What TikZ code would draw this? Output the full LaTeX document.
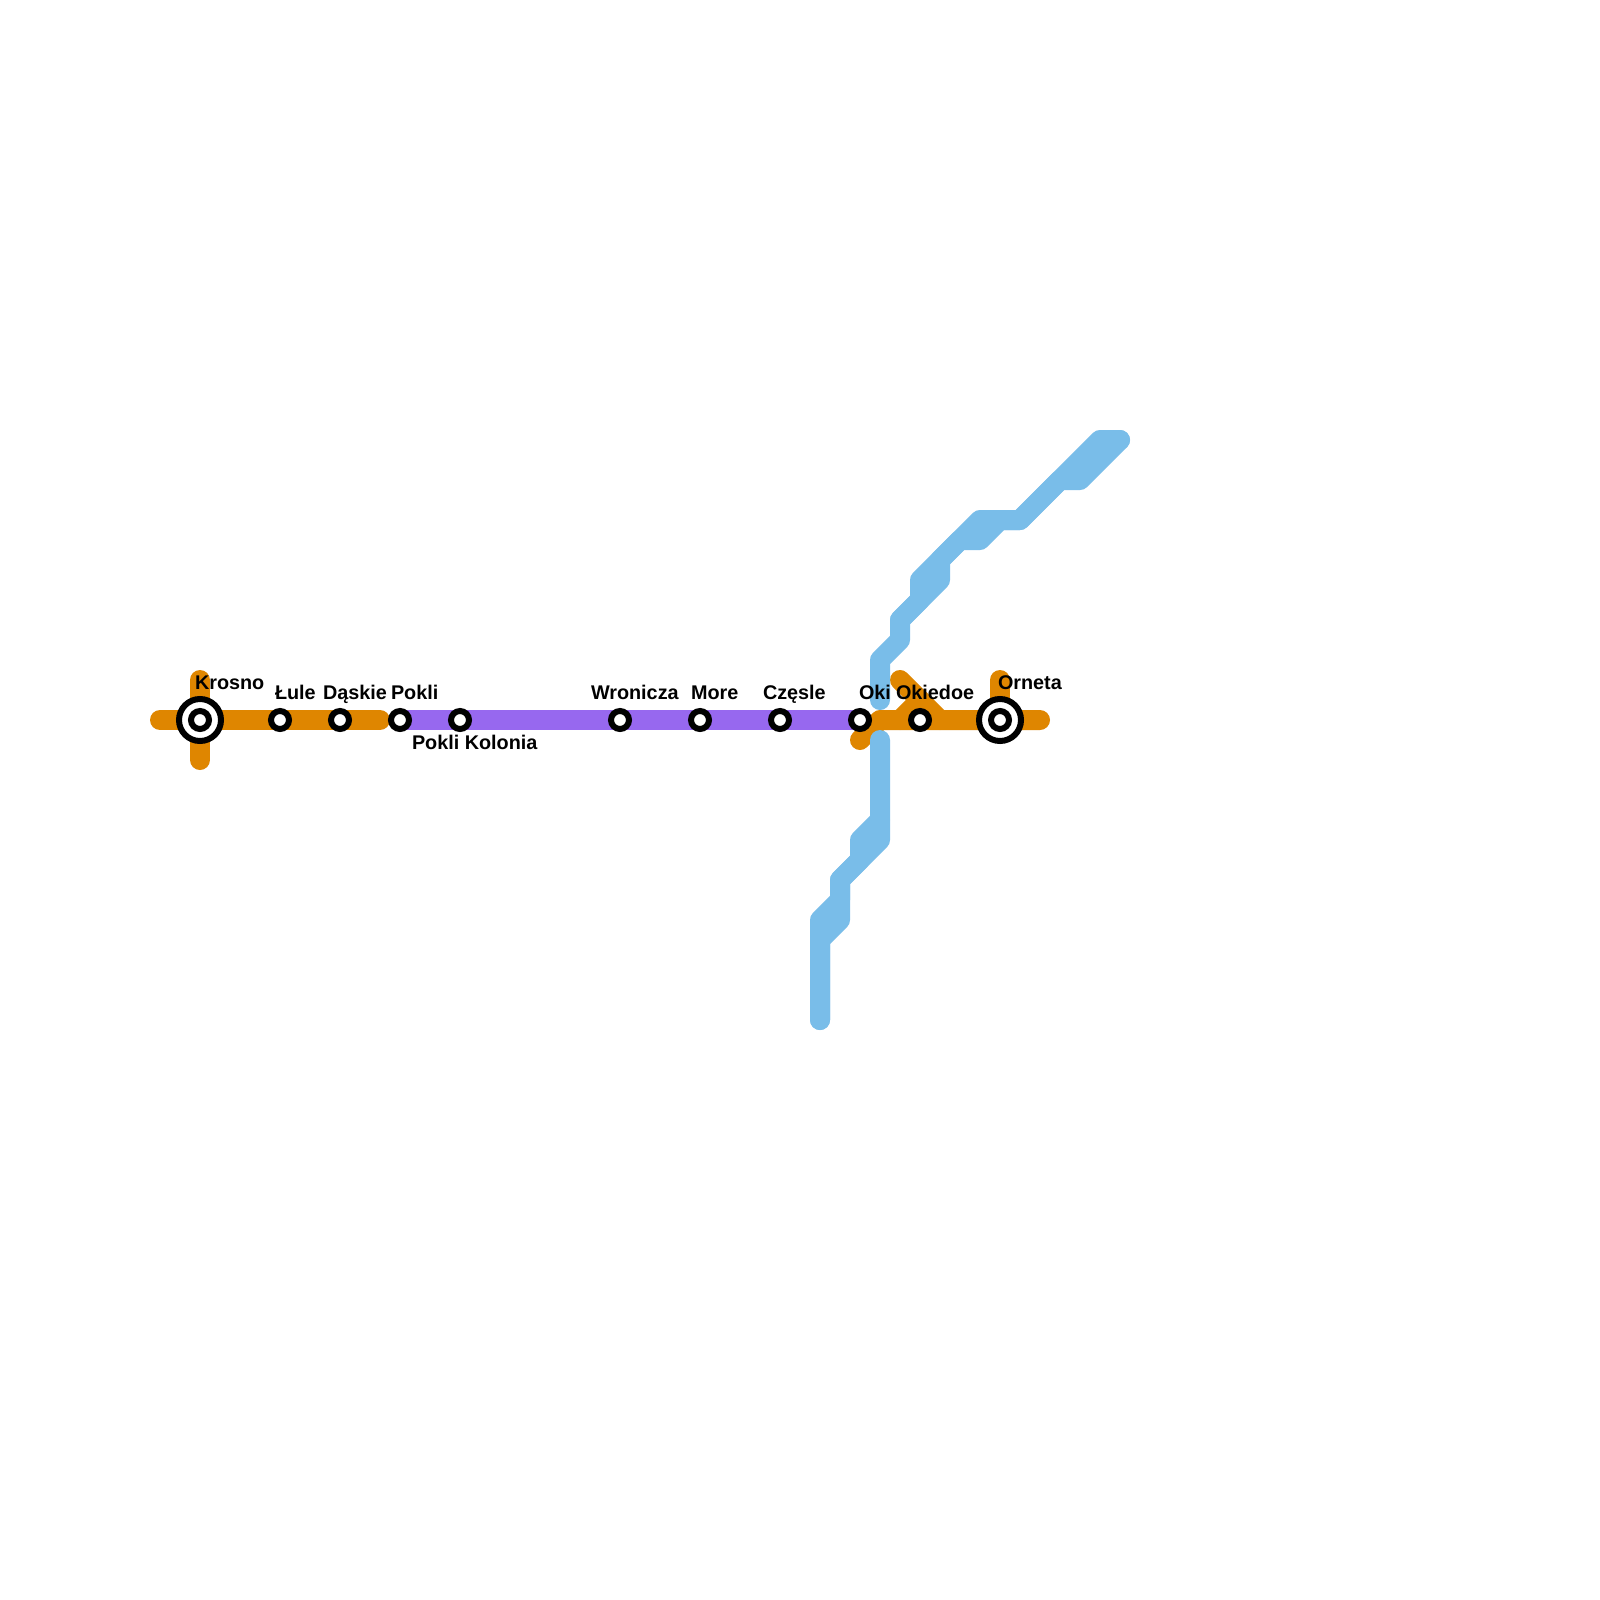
\documentclass[tikz,border=0pt]{standalone}
\usepackage{fontspec}
\setmainfont{Liberation Sans}
\definecolor{lorange}{HTML}{DF8600}
\definecolor{lpurple}{HTML}{9768EF}
\definecolor{lblue}{HTML}{79BDE9}
\tikzset{
  route/.style={line width=20pt,line cap=round,line join=round},
  stop/.style={circle,draw=black,fill=white,line width=6pt,minimum size=18pt,inner sep=0pt,outer sep=0pt},
  hubouter/.style={circle,draw=black,fill=white,line width=6pt,minimum size=42pt,inner sep=0pt,outer sep=0pt},
  hubinner/.style={circle,draw=black,fill=white,line width=6pt,minimum size=18pt,inner sep=0pt,outer sep=0pt},
  lbl/.style={anchor=base west,inner sep=0pt,outer sep=0pt,text=black,font=\fontsize{19.8}{20}\selectfont\bfseries}
}
\begin{document}
\begin{tikzpicture}[x=1pt,y=-1pt]
\useasboundingbox (0,0) rectangle (1600,1600);
\fill[white] (0,0) rectangle (1600,1600);
% station positions
\coordinate (cKrosno) at (200,720);
\coordinate (cLule) at (280,720);
\coordinate (cDaskie) at (340,720);
\coordinate (cPokli) at (400,720);
\coordinate (cKolonia) at (460,720);
\coordinate (cWronicza) at (620,720);
\coordinate (cMore) at (700,720);
\coordinate (cCzesle) at (780,720);
\coordinate (cOki) at (860,720);
\coordinate (cOkiedoe) at (920,720);
\coordinate (cOrneta) at (1000,720);
% orange routes
\draw[route,lorange] (160,720) -- (380,720);
\draw[route,lorange] (200,680) -- (200,760);
\draw[route,lorange] (860,740) -- (880,720) -- (1040,720);
\draw[route,lorange] (900,680) -- (940,720);
\draw[route,lorange] (900,720) -- (920,700);
\draw[route,lorange] (1000,680) -- (cOrneta);
% purple route
\draw[route,lpurple] (cPokli) -- (cOki);
% blue routes
\draw[route,lblue] (880,740) -- (880,840) -- (840,880) -- (840,920) -- (820,940) -- (820,1020);
\draw[route,lblue] (880,820) -- (860,840) -- (860,860) -- (840,880) -- (840,900) -- (820,920) -- (820,1020);
\draw[route,lblue] (880,700) -- (880,660) -- (900,640) -- (900,620) -- (920,600) -- (920,580) -- (980,520) -- (1020,520) -- (1100,440) -- (1120,440);
\draw[route,lblue] (900,620) -- (940,580) -- (940,560) -- (960,540) -- (980,540) -- (1000,520) -- (1020,520) -- (1060,480) -- (1080,480) -- (1120,440);
% stations
\node[hubouter] (nKrosnoO) at (cKrosno) {};
\node[hubinner] (nKrosno) at (cKrosno) {};
\node[stop] (nLule) at (cLule) {};
\node[stop] (nDaskie) at (cDaskie) {};
\node[stop] (nPokli) at (cPokli) {};
\node[stop] (nKolonia) at (cKolonia) {};
\node[stop] (nWronicza) at (cWronicza) {};
\node[stop] (nMore) at (cMore) {};
\node[stop] (nCzesle) at (cCzesle) {};
\node[stop] (nOki) at (cOki) {};
\node[stop] (nOkiedoe) at (cOkiedoe) {};
\node[hubouter] (nOrnetaO) at (cOrneta) {};
\node[hubinner] (nOrneta) at (cOrneta) {};
% labels
\node[lbl] (tKrosno) at (195,689) {Krosno};
\node[lbl] (tLule) at (275,699) {Łule};
\node[lbl] (tDaskie) at (323,699) {Dąskie};
\node[lbl] (tPokli) at (391,699) {Pokli};
\node[lbl] (tKolonia) at (412,749) {Pokli Kolonia};
\node[lbl] (tWronicza) at (591,699) {Wronicza};
\node[lbl] (tMore) at (691,699) {More};
\node[lbl] (tCzesle) at (763,699) {Częsle};
\node[lbl] (tOki) at (859,699) {Oki};
\node[lbl] (tOkiedoe) at (896,699) {Okiedoe};
\node[lbl] (tOrneta) at (998,689) {Orneta};
\end{tikzpicture}
\end{document}
